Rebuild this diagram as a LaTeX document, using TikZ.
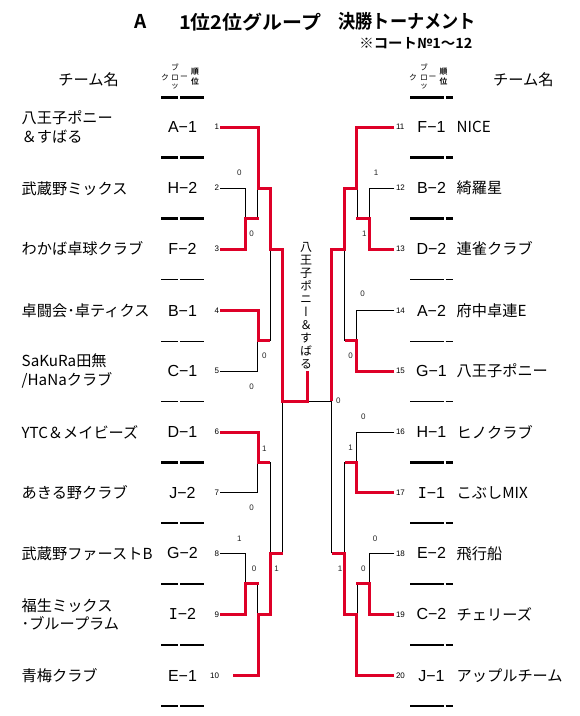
\documentclass[tikz,border=0pt]{standalone}
\usepackage{fontspec}
\setmainfont{Liberation Sans}
\newfontfamily\jp{Noto Sans CJK JP}
\newfontfamily\jpb{Noto Sans CJK JP Bold}
\newfontfamily\jpv{Noto Sans CJK JP}[RawFeature=+vert]
\newfontfamily\dmono{DejaVu Sans Mono}
\definecolor{wred}{RGB}{222,0,40}
\newcommand\serifI{{\dmono\fontsize{15}{16}\selectfont I}}
\begin{document}
\begin{tikzpicture}[x=1pt,y=-1pt,
  every node/.style={inner sep=0pt, outer sep=0pt},
  team/.style={font=\jp\fontsize{15.2}{18.4}\selectfont, anchor=west, align=left},
  blk/.style={font=\fontsize{16}{18}\selectfont},
  num/.style={font=\fontsize{8}{9}\selectfont},
  score/.style={font=\fontsize{8}{9}\selectfont, text=black!85},
  win/.style={draw=wred, line width=3pt},
  lose/.style={draw=black, line width=0.9pt},
  rulethick/.style={line width=2.2pt},
  rulethin/.style={line width=1pt},
  hdr/.style={font=\jp\fontsize{7.8}{8}\selectfont},
  hdrb/.style={font=\jpb\fontsize{7.8}{8}\selectfont},
  ttl/.style={font=\jpb\fontsize{19}{21}\selectfont},
]
\useasboundingbox (0,0) rectangle (580,716);
\fill[white] (0,0) rectangle (580,716);

% ---------- title ----------
\node[ttl] (tA) at (141,21.7) {A};
\node[ttl, anchor=west] (tB) at (179,21.7) {\resizebox{142pt}{\height}{1位2位グループ}};
\node[ttl, anchor=west] (tC) at (338.5,21.7) {\resizebox{137.5pt}{\height}{決勝トーナメント}};
\node[font=\jpb\fontsize{14}{15}\selectfont, anchor=east] (tS) at (472.4,43) {\resizebox{113pt}{\height}{※コート№1～12}};

% ---------- headers ----------
\node[font=\jp\fontsize{15.25}{16}\selectfont] (hL) at (88.6,80) {チーム名};
\node[font=\jp\fontsize{15.25}{16}\selectfont] (hR) at (523.3,80) {チーム名};
\node[hdr] (hLa) at (175,67.5) {ブ};
\node[hdr] (hLb) at (165,77.5) {ク};
\node[hdr] (hLc) at (175,77.5) {ロ};
\node[hdr] (hLd) at (184,77.5) {ー};
\node[hdr] (hLe) at (175,87) {ッ};
\node[hdrb] (hLf) at (195,72) {順};
\node[hdrb] (hLg) at (195,82) {位};
\node[hdr] (hRa) at (424,67.5) {ブ};
\node[hdr] (hRb) at (413,77.5) {ク};
\node[hdr] (hRc) at (424,77.5) {ロ};
\node[hdr] (hRd) at (432.5,77.5) {ー};
\node[hdr] (hRe) at (424,87) {ッ};
\node[hdrb] (hRf) at (443.5,72) {順};
\node[hdrb] (hRg) at (443.5,82) {位};
\draw[line width=2.4pt] (161,97.5) -- (178.3,97.5) (180,97.5) -- (204,97.5);
\draw[line width=2.4pt] (410,97.5) -- (444.3,97.5) (445.7,97.5) -- (453.3,97.5);

% ---------- left teams ----------
\node[team] (T1) at (21.7,127) {八王子ポニー\\＆すばる};
\node[team] (T2) at (21.7,189) {武蔵野ミックス};
\node[team] (T3) at (21.7,249) {わかば卓球クラブ};
\node[team] (T4) at (21.7,310.5) {卓闘会･卓ティクス};
\node[team] (T5) at (21.7,371) {SaKuRa田無\\/HaNaクラブ};
\node[team] (T6) at (21.7,432) {YTC＆メイビーズ};
\node[team] (T7) at (21.7,492.7) {あきる野クラブ};
\node[team] (T8) at (21.7,553.3) {武蔵野ファーストB};
\node[team] (T9) at (21.7,614.3) {福生ミックス\\･ブループラム};
\node[team] (T10) at (21.7,675.7) {青梅クラブ};

\node[blk] (B1) at (182.5,127) {A−1};
\node[blk] (B2) at (182.5,188) {H−2};
\node[blk] (B3) at (182.5,249) {F−2};
\node[blk] (B4) at (182.5,310.5) {B−1};
\node[blk] (B5) at (182.5,371) {C−1};
\node[blk] (B6) at (182.5,432) {D−1};
\node[blk] (B7) at (182.5,492.7) {J−2};
\node[blk] (B8) at (182.5,553.3) {G−2};
\node[blk] (B9) at (182.5,614.3) {\serifI−2};
\node[blk] (B10) at (182.5,675.7) {E−1};

% left underlines
\foreach \y in {157.5,218.5,462.5,523.2,583.8,644.8,706.2}
  \draw[rulethick] (161,\y) -- (178.3,\y) (180,\y) -- (204,\y);
\foreach \y in {279.5,341,401.5}
  \draw[rulethin] (161,\y) -- (178.3,\y) (180,\y) -- (204,\y);

% ---------- right teams ----------
\node[team] (T11) at (456.7,127) {NICE};
\node[team] (T12) at (456.7,188) {綺羅星};
\node[team] (T13) at (456.7,249) {連雀クラブ};
\node[team] (T14) at (456.7,310.5) {府中卓連E};
\node[team] (T15) at (456.7,371) {八王子ポニー};
\node[team] (T16) at (456.7,432) {ヒノクラブ};
\node[team] (T17) at (456.7,492.7) {こぶしMIX};
\node[team] (T18) at (456.7,553.3) {飛行船};
\node[team] (T19) at (456.7,614.3) {チェリーズ};
\node[team] (T20) at (456.7,675.7) {アップルチーム};

\node[blk] (B11) at (431.5,127) {F−1};
\node[blk] (B12) at (431.5,188) {B−2};
\node[blk] (B13) at (431.5,249) {D−2};
\node[blk] (B14) at (431.5,310.5) {A−2};
\node[blk] (B15) at (431.5,371) {G−1};
\node[blk] (B16) at (431.5,432) {H−1};
\node[blk] (B17) at (431.5,492.7) {\serifI−1};
\node[blk] (B18) at (431.5,553.3) {E−2};
\node[blk] (B19) at (431.5,614.3) {C−2};
\node[blk] (B20) at (431.5,675.7) {J−1};

\foreach \y in {157.5,218.5,462.5,523.2,583.8,644.8,706.2}
  \draw[rulethick] (410,\y) -- (444.3,\y) (445.7,\y) -- (453.3,\y);
\foreach \y in {279.5,341,401.5}
  \draw[rulethin] (410,\y) -- (444.3,\y) (445.7,\y) -- (453.3,\y);

% ---------- seed numbers ----------
\foreach \i/\y in {1/127,2/188,3/249,4/310.5,5/371,6/432,7/492.7,8/553.3,9/614.3,10/675.7}
  \node[num, anchor=east] (n\i) at (219,\y) {\i};
\foreach \i/\y in {11/127,12/188,13/249,14/310.5,15/371,16/432,17/492.7,18/553.3,19/614.3,20/675.7}
  \node[num, anchor=west] (n\i) at (396,\y) {\i};

\foreach \i/\y in {1/127,2/188,3/249,4/310.5,5/371,6/432,7/492.7,8/553.3,9/614.3}
  \coordinate (s\i) at (220,\y);
\coordinate (s10) at (233,675.7);
\foreach \i/\y in {11/127,12/188,13/249,14/310.5,15/371,16/432,17/492.7,18/553.3,19/614.3,20/675.7}
  \coordinate (s\i) at (394.3,\y);

% ---------- bracket: losers (black) ----------
\draw[lose] (s2) -| (245.7,218);
\draw[lose] (257.5,218) -- (257.5,188);
\draw[lose] (s5) -| (257.5,340.5);
\draw[lose] (270,340.5) -- (270,249);
\draw[lose] (s7) -| (257.5,462);
\draw[lose] (270,462) -- (270,553.3);
\draw[lose] (s8) -| (245.7,583.5);
\draw[lose] (257.5,583.5) -- (257.5,614.3);
\draw[lose] (282.7,553.3) -- (282.7,401);
\draw[lose] (307,401) -- (331.7,401);

\draw[lose] (s12) -| (369.3,218);
\draw[lose] (357,218) -- (357,188);
\draw[lose] (344.5,249) -- (344.5,340.5);
\draw[lose] (s14) -| (356.7,340.5);
\draw[lose] (s16) -| (356.7,462);
\draw[lose] (344.5,462) -- (344.5,553.3);
\draw[lose] (s18) -| (369.3,583.5);
\draw[lose] (357,583.5) -- (357,614.3);
\draw[lose] (331.7,553.3) -- (331.7,401);

% ---------- bracket: winners (red) ----------
\draw[win] (s1) -| (258,188) -| (270,249) -| (282.7,401) -| (307,371);
\draw[win] (s3) -| (245.7,218) -- (258.5,218);
\draw[win] (s4) -| (258,340.5) -- (270,340.5);
\draw[win] (s6) -| (258,462) -- (270,462);
\draw[win] (s9) -| (245.7,583.5) -- (258.5,583.5);
\draw[win] (s10) -| (258,614.3) -| (270,553.3) -- (282.7,553.3);

\draw[win] (s11) -| (356.7,188) -| (344.5,249) -| (331.7,401);
\draw[win] (s13) -| (369.3,218) -- (356,218);
\draw[win] (s15) -| (356.7,340.5) -- (344.5,340.5);
\draw[win] (s17) -| (356.7,462) -- (344.5,462);
\draw[win] (s19) -| (369.3,583.5) -- (356,583.5);
\draw[win] (s20) -| (356.7,614.3) -| (344.5,553.3) -- (331.7,553.3);

% ---------- champion ----------
\node[font=\jpv\fontsize{12}{13}\selectfont, align=center] (champ) at (306,305.3)
  {八\\王\\子\\ポ\\ニ\\ー\\＆\\す\\ば\\る};

% ---------- scores ----------
\node[score] (c1) at (239.3,172.7) {0};
\node[score] (c2) at (251.7,234) {0};
\node[score] (c3) at (264.3,355.7) {0};
\node[score] (c4) at (251.7,386.7) {0};
\node[score] (c5) at (264.3,448.3) {1};
\node[score] (c6) at (251.7,507.7) {0};
\node[score] (c7) at (239.3,538.3) {1};
\node[score] (c8) at (254,568.3) {0};
\node[score] (c9) at (276.7,568.3) {1};
\node[score] (c10) at (376,172.7) {1};
\node[score] (c11) at (364.3,234) {1};
\node[score] (c12) at (362.7,294) {0};
\node[score] (c13) at (350.7,355.7) {0};
\node[score] (c14) at (338.3,401) {0};
\node[score] (c15) at (363.3,416.7) {0};
\node[score] (c16) at (350.7,447.3) {1};
\node[score] (c17) at (375,539) {0};
\node[score] (c18) at (363.3,568.3) {0};
\node[score] (c19) at (340,568.3) {1};
\end{tikzpicture}
\end{document}
